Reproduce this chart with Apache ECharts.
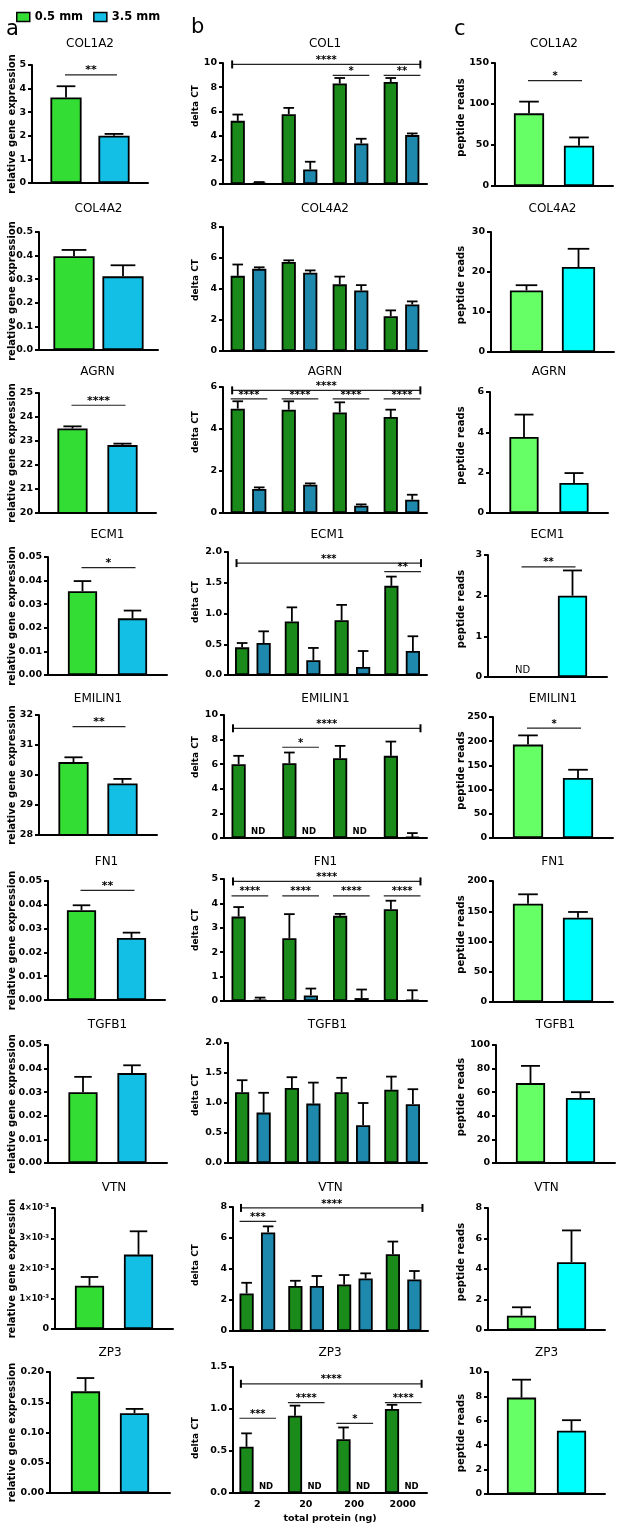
<!DOCTYPE html>
<html><head><meta charset="utf-8">
<script src="https://cdn.jsdelivr.net/npm/echarts@6/dist/echarts.min.js"></script>
<style>html,body{margin:0;padding:0;background:#fff}#c{width:622px;height:1530px}</style>
</head><body><div id="c"></div>
<script>
// ================= DATA =================
const GROUPS = ['0.5 mm', '3.5 mm'];
const GENES_A = ['COL1A2','COL4A2','AGRN','ECM1','EMILIN1','FN1','TGFB1','VTN','ZP3'];
const GENES_B = ['COL1','COL4A2','AGRN','ECM1','EMILIN1','FN1','TGFB1','VTN','ZP3'];
const GENES_C = ['COL1A2','COL4A2','AGRN','ECM1','EMILIN1','FN1','TGFB1','VTN','ZP3'];
const PROTEIN_NG = ['2','20','200','2000'];

// (a) relative gene expression: mean and mean+error
const A_05     = [3.62, 0.397, 23.52, 0.0355, 30.43, 0.0377, 0.0300, 0.00143, 0.168];
const A_05_ERR = [4.10, 0.424, 23.61, 0.0398, 30.59, 0.0398, 0.0365, 0.00172, 0.190];
const A_35     = [2.00, 0.312, 22.83, 0.0240, 29.72, 0.0261, 0.0381, 0.00246, 0.132];
const A_35_ERR = [2.08, 0.359, 22.89, 0.0273, 29.87, 0.0283, 0.0414, 0.00323, 0.139];
const A_MIN  = [0, 0, 20, 0, 28, 0, 0, 0, 0];
const A_MAX  = [5, 0.5, 25, 0.05, 32, 0.05, 0.05, 0.004, 0.20];
const A_STEP = [1, 0.1, 1, 0.01, 1, 0.01, 0.01, 0.001, 0.05];

// (b) delta CT per total protein amount (null = ND)
const B_05 = [
  [5.22, 5.77, 8.30, 8.43],
  [4.85, 5.75, 4.30, 2.25],
  [4.97, 4.92, 4.79, 4.57],
  [0.45, 0.87, 0.89, 1.45],
  [6.00, 6.08, 6.49, 6.68],
  [3.46, 2.57, 3.49, 3.76],
  [1.18, 1.25, 1.18, 1.22],
  [2.42, 2.90, 3.00, 4.95],
  [0.55, 0.92, 0.64, 1.00]];
const B_05_ERR = [
  [5.74, 6.29, 8.76, 8.76],
  [5.58, 5.85, 4.80, 2.62],
  [5.32, 5.32, 5.27, 4.92],
  [0.52, 1.10, 1.14, 1.60],
  [6.68, 6.95, 7.49, 7.84],
  [3.85, 3.56, 3.57, 4.11],
  [1.38, 1.43, 1.42, 1.44],
  [3.11, 3.24, 3.61, 5.77],
  [0.71, 1.04, 0.78, 1.05]];
const B_35 = [
  [0.10, 1.20, 3.35, 4.04],
  [5.30, 5.05, 3.90, 3.00],
  [1.14, 1.35, 0.35, 0.63],
  [0.52, 0.24, 0.13, 0.39],
  [null, null, null, 0.08],
  [0.05, 0.23, 0.12, 0.05],
  [0.84, 0.99, 0.63, 0.98],
  [6.36, 2.90, 3.39, 3.33],
  [null, null, null, null]];
const B_35_ERR = [
  [0.16, 1.84, 3.74, 4.18],
  [5.40, 5.20, 4.25, 3.20],
  [1.22, 1.41, 0.41, 0.87],
  [0.71, 0.44, 0.39, 0.63],
  [null, null, null, 0.40],
  [0.14, 0.51, 0.47, 0.44],
  [1.17, 1.34, 1.00, 1.23],
  [6.75, 3.55, 3.72, 3.87],
  [null, null, null, null]];
const B_MAX  = [10, 8, 6, 2, 10, 5, 2, 8, 1.5];
const B_STEP = [2, 2, 2, 0.5, 2, 1, 0.5, 2, 0.5];

// (c) peptide reads (null = ND)
const C_05     = [88.6, 15.4, 3.77, null, 193, 162.5, 67.7, 0.94, 7.90];
const C_05_ERR = [102.9, 16.7, 4.88, null, 212, 178, 82.3, 1.49, 9.37];
const C_35     = [49.0, 21.25, 1.49, 2.00, 124, 139.4, 55.1, 4.45, 5.18];
const C_35_ERR = [59.2, 25.8, 1.98, 2.62, 141, 148.8, 60.0, 6.53, 6.05];
const C_MAX  = [150, 30, 6, 3, 250, 200, 100, 8, 10];
const C_STEP = [50, 10, 2, 1, 50, 50, 20, 2, 2];

// significance: [row, y, stars]
const SIG_A = [[0, 4.58, '**'], [2, 24.49, '****'], [3, 0.0455, '*'], [4, 31.61, '**'], [5, 0.0461, '**']];
const SIG_C = [[0, 128.6, '*'], [3, 2.71, '**'], [4, 227, '*']];
// [row, fromGroup, toGroup, y, stars]
const SIG_B = [
  [0,0,3,9.88,'****'], [0,2,2,8.97,'*'], [0,3,3,8.97,'**'],
  [2,0,3,5.84,'****'], [2,0,0,5.43,'****'], [2,1,1,5.43,'****'], [2,2,2,5.43,'****'], [2,3,3,5.43,'****'],
  [3,0,3,1.82,'***'], [3,3,3,1.68,'**'],
  [4,0,3,8.92,'****'], [4,1,1,7.38,'*'],
  [5,0,3,4.90,'****'], [5,0,0,4.31,'****'], [5,1,1,4.31,'****'], [5,2,2,4.31,'****'], [5,3,3,4.31,'****'],
  [7,0,3,7.94,'****'], [7,0,0,7.07,'***'],
  [8,0,3,1.30,'****'], [8,0,0,0.89,'***'], [8,1,1,1.075,'****'], [8,2,2,0.83,'*'], [8,3,3,1.075,'****']];

// ================= LAYOUT / STYLE =================
const FONT = "'DejaVu Sans', sans-serif";
const PAL = {a: ['#33dd33', '#14bfe6'], b: ['#1a8a1a', '#1f88ad'], c: ['#66ff66', '#00ffff']};
const BORDER = 1.8;
// [yAxisX, rightX, topY, zeroY, barWidth, barGap]
const LAY_A = [
  [32,148,65,183,33,15], [39,158,232,350,43,6], [39,156,393,513,32,18],
  [48,167,557,675,31,19], [39,157,715,835,32,17], [48,165,881,1000,31,19],
  [48,167,1045,1163,31,18], [55,173,1208,1329,31,18], [50,170,1372,1493,31,18]];
const LAY_B = [
  [223,427,63,184], [223,427,227,351], [223,427,387,513],
  [228,427,552,675], [224,427,715,838], [224,427,879,1001],
  [228,427,1043,1163], [233,428,1207,1331], [233,427,1367,1493]];
const LAY_C = [
  [495,613,63,186,32,18], [491,614,232,352,35,17], [490,608,392,513,31,19],
  [488,607,555,677,31,19], [493,613,717,838,32,18], [493,613,881,1002,32,18],
  [496,615,1045,1163,31,19], [488,605,1208,1330,31,19], [488,605,1372,1494,31,19]];
const TITLE_Y = [44, 209, 372, 535, 699, 862, 1025, 1188, 1353];
const YLAB_B = [106, 280, 432, 602, 757, 930, 1095, 1265, 1438];

const LABEL = {color: '#000', fontFamily: FONT, fontWeight: 'bold', fontSize: 9.5};

const option = {
  animation: false,
  backgroundColor: '#ffffff',
  textStyle: {fontFamily: FONT},
  legend: {
    left: 11, top: 6, itemWidth: 13, itemHeight: 9, itemGap: 10, icon: 'rect', selectedMode: false,
    textStyle: {color: '#000', fontFamily: FONT, fontWeight: 'bold', fontSize: 11.5},
    data: [
      {name: GROUPS[0], itemStyle: {color: PAL.a[0], borderColor: '#000', borderWidth: 1.5}},
      {name: GROUPS[1], itemStyle: {color: PAL.a[1], borderColor: '#000', borderWidth: 1.5}}]
  },
  grid: [], xAxis: [], yAxis: [], series: [], graphic: []
};

function decimals(step) { return step >= 1 ? 0 : Math.ceil(-Math.log10(step) - 1e-9); }
function fmtFor(step, sci) {
  if (sci) return v => v === 0 ? '0' : '{m|' + Math.round(v * 1000) + '×10}{e|-3}';
  const d = decimals(step);
  return v => v.toFixed(d);
}

function addText(x, y, text, font, extra) {
  option.graphic.push(Object.assign({type: 'text', x: x, y: y, silent: true,
    style: {text: text, fill: '#000', font: font, textAlign: 'center', textVerticalAlign: 'middle',
            align: 'center', verticalAlign: 'middle'}}, extra || {}));
}

function addPanel(p) {
  const k = option.grid.length;
  const [L, R, T, B] = p.box;
  const bw = p.bar[0] - BORDER, gap = p.bar[1] + BORDER;
  const off = (bw + gap) / 2;
  option.grid.push({left: L, top: T, width: R - L, height: B - T, containLabel: false, outerBoundsMode: 'none'});
  option.xAxis.push({
    gridIndex: k, type: 'category', data: p.cats,
    axisLine: {show: true, onZero: false, lineStyle: {color: '#000', width: 2}},
    axisTick: {show: false}, splitLine: {show: false},
    axisLabel: p.xTitle ? Object.assign({show: true, margin: 7, interval: 0}, LABEL) : {show: false},
    name: p.xTitle || '', nameLocation: 'middle', nameGap: 21,
    nameTextStyle: Object.assign({}, LABEL)
  });
  option.yAxis.push({
    gridIndex: k, type: 'value', min: p.min, max: p.max, interval: p.step,
    axisLine: {show: true, onZero: false, lineStyle: {color: '#000', width: 2}},
    axisTick: {show: true, inside: false, length: 4, lineStyle: {color: '#000', width: 2}},
    splitLine: {show: false},
    axisLabel: Object.assign({show: true, margin: 6, formatter: p.fmt,
      rich: {m: Object.assign({}, LABEL, {fontSize: 8}),
             e: Object.assign({}, LABEL, {fontSize: 5.5, verticalAlign: 'top', padding: [0, 0, 4, 0]})}}, LABEL)
  });
  [0, 1].forEach(s => {
    option.series.push({
      type: 'bar', name: GROUPS[s], xAxisIndex: k, yAxisIndex: k, silent: true,
      data: p.vals[s].map(v => v == null ? '-' : v),
      barWidth: bw, barGap: (gap / bw * 100) + '%',
      itemStyle: {color: p.colors[s], borderColor: '#000', borderWidth: BORDER}
    });
  });
  const items = [];
  p.cats.forEach((c, i) => [0, 1].forEach(s => items.push({cat: i, s: s, v: p.vals[s][i], e: p.errs[s][i]})));
  option.series.push({
    type: 'custom', xAxisIndex: k, yAxisIndex: k, silent: true, z: 5, clip: false,
    data: items.map(it => [it.cat, p.min]),
    renderItem: (params, api) => {
      const it = items[params.dataIndex];
      const base = api.coord([it.cat, p.min]);
      const cx = base[0] + (it.s ? off : -off);
      if (it.v == null) {
        if (!p.nd) return null;
        return {type: 'text', x: cx + p.nd.dx, y: base[1] - 1.5,
          style: {text: 'ND', fill: '#000', font: p.nd.font, textAlign: 'center', textVerticalAlign: 'bottom',
                  align: 'center', verticalAlign: 'bottom'}};
      }
      const y0 = api.coord([it.cat, it.v])[1], y1 = api.coord([it.cat, it.e])[1];
      const cw = bw * p.cap / 2;
      return {type: 'group', children: [
        {type: 'line', shape: {x1: cx, y1: y0, x2: cx, y2: y1}, style: {stroke: '#000', lineWidth: 1.8}},
        {type: 'line', shape: {x1: cx - cw, y1: y1, x2: cx + cw, y2: y1}, style: {stroke: '#000', lineWidth: 1.8}}]};
    }
  });
  if (p.sig.length) {
    const sigs = p.sig;
    option.series.push({
      type: 'custom', xAxisIndex: k, yAxisIndex: k, silent: true, z: 6, clip: false,
      data: sigs.map(s => [s.from, s.y]),
      renderItem: (params, api) => {
        const s = sigs[params.dataIndex];
        const c1 = api.coord([s.from, s.y]), c2 = api.coord([s.to, s.y]);
        const bracket = s.from !== s.to;
        let x1, x2;
        if (p.grouped) { x1 = c1[0] - off - bw / 2 + (bracket ? 1.5 : 0); x2 = c2[0] + off + bw / 2 + 1; }
        else { x1 = c1[0] - off - 1; x2 = c2[0] + off + 3; }
        const y = c1[1];
        const ch = [
          {type: 'line', shape: {x1: x1, y1: y, x2: x2, y2: y}, style: {stroke: '#222', lineWidth: 1.2}},
          {type: 'text', x: (x1 + x2) / 2, y: y + 1,
           style: {text: s.t, fill: '#000', font: 'bold ' + p.starSize + 'px ' + FONT,
                   textAlign: 'center', textVerticalAlign: 'bottom', align: 'center', verticalAlign: 'bottom'}}];
        if (bracket) {
          ch.push({type: 'line', shape: {x1: x1, y1: y - 4, x2: x1, y2: y + 4}, style: {stroke: '#000', lineWidth: 2}});
          ch.push({type: 'line', shape: {x1: x2, y1: y - 4, x2: x2, y2: y + 4}, style: {stroke: '#000', lineWidth: 2}});
        }
        return {type: 'group', children: ch};
      }
    });
  }
  addText((L + R) / 2, p.titleY, p.title, '12px ' + FONT);
  addText(p.ylab.x, p.ylab.y, p.ylab.text, 'bold ' + p.ylab.size + 'px ' + FONT, {rotation: Math.PI / 2});
}

// column a
GENES_A.forEach((g, r) => {
  const l = LAY_A[r];
  addPanel({
    box: l, bar: [l[4], l[5]], cats: [''], min: A_MIN[r], max: A_MAX[r], step: A_STEP[r],
    fmt: fmtFor(A_STEP[r], g === 'VTN'),
    vals: [[A_05[r]], [A_35[r]]], errs: [[A_05_ERR[r]], [A_35_ERR[r]]],
    colors: PAL.a, cap: 0.6, starSize: 11, grouped: false,
    sig: SIG_A.filter(s => s[0] === r).map(s => ({from: 0, to: 0, y: s[1], t: s[2]})),
    title: g, titleY: TITLE_Y[r],
    ylab: {x: 12, y: (l[2] + l[3]) / 2, text: 'relative gene expression', size: 10}
  });
});
// column b
GENES_B.forEach((g, r) => {
  const l = LAY_B[r];
  addPanel({
    box: l, bar: [16, 5.5], cats: PROTEIN_NG, min: 0, max: B_MAX[r], step: B_STEP[r],
    fmt: fmtFor(B_STEP[r], false),
    vals: [B_05[r], B_35[r]], errs: [B_05_ERR[r], B_35_ERR[r]],
    colors: PAL.b, cap: 0.75, starSize: 10, grouped: true,
    nd: {dx: -2, font: 'bold 8.5px ' + FONT},
    sig: SIG_B.filter(s => s[0] === r).map(s => ({from: s[1], to: s[2], y: s[3], t: s[4]})),
    xTitle: r === GENES_B.length - 1 ? 'total protein (ng)' : null,
    title: g, titleY: TITLE_Y[r],
    ylab: {x: 196, y: YLAB_B[r], text: 'delta CT', size: 9}
  });
});
// column c
GENES_C.forEach((g, r) => {
  const l = LAY_C[r];
  addPanel({
    box: l, bar: [l[4], l[5]], cats: [''], min: 0, max: C_MAX[r], step: C_STEP[r],
    fmt: fmtFor(C_STEP[r], false),
    vals: [[C_05[r]], [C_35[r]]], errs: [[C_05_ERR[r]], [C_35_ERR[r]]],
    colors: PAL.c, cap: 0.65, starSize: 10, grouped: false,
    nd: {dx: 0, font: '10px ' + FONT},
    sig: SIG_C.filter(s => s[0] === r).map(s => ({from: 0, to: 0, y: s[1], t: s[2]})),
    title: g, titleY: TITLE_Y[r],
    ylab: {x: 461, y: (l[2] + l[3]) / 2 - (r < 8 ? 7 : 0), text: 'peptide reads', size: 10}
  });
});

// panel letters
option.graphic.push({type: 'text', x: 6, y: 30, silent: true, style: {text: 'a', fill: '#000', font: '21px ' + FONT, textAlign: 'left', textVerticalAlign: 'middle', align: 'left', verticalAlign: 'middle'}});
option.graphic.push({type: 'text', x: 191, y: 28, silent: true, style: {text: 'b', fill: '#000', font: '21px ' + FONT, textAlign: 'left', textVerticalAlign: 'middle', align: 'left', verticalAlign: 'middle'}});
option.graphic.push({type: 'text', x: 454, y: 30, silent: true, style: {text: 'c', fill: '#000', font: '21px ' + FONT, textAlign: 'left', textVerticalAlign: 'middle', align: 'left', verticalAlign: 'middle'}});

const chart = echarts.init(document.getElementById('c'), null, {renderer: 'canvas', width: 622, height: 1530});
chart.setOption(option);
</script>
</body></html>
